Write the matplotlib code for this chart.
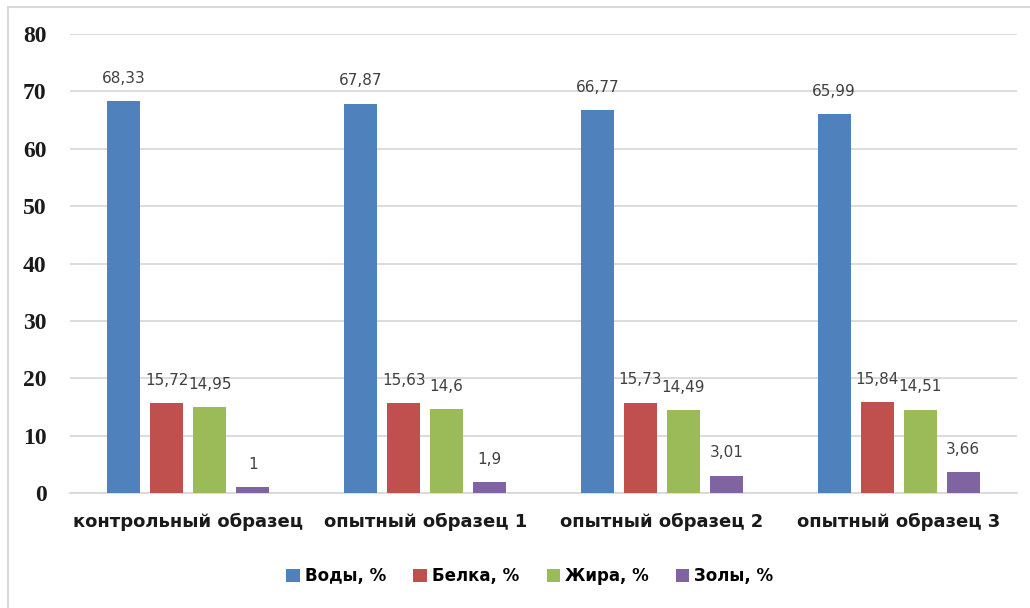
import matplotlib.pyplot as plt
import matplotlib.patches as mpatches
import numpy as np

# состав образцов, %
categories = ["контрольный образец", "опытный образец 1", "опытный образец 2", "опытный образец 3"]
series_names = ["Воды, %", "Белка, %", "Жира, %", "Золы, %"]
voda = [68.33, 67.87, 66.77, 65.99]
belok = [15.72, 15.63, 15.73, 15.84]
zhir = [14.95, 14.6, 14.49, 14.51]
zola = [1, 1.9, 3.01, 3.66]
yticks = [0, 10, 20, 30, 40, 50, 60, 70, 80]

colors = ["#4F81BD", "#C0504D", "#9BBB59", "#8064A2"]
series = [voda, belok, zhir, zola]

fig = plt.figure(figsize=(10.3, 6.08), dpi=100)
W, H = 1030, 608
ax = fig.add_axes([70 / W, (H - 493) / H, (1017 - 70) / W, (493 - 34) / H])

# рамка диаграммы
fig.patches.append(mpatches.Rectangle((8 / W, -0.05), 1.1, 1.05 - 7 / H,
                                      transform=fig.transFigure, fill=False,
                                      edgecolor="#D9D9D9", linewidth=1.5))

x = np.arange(len(categories))
width = 0.139
step = 0.1816
offsets = (np.arange(4) - 1.5) * step

for i, vals in enumerate(series):
    bars = ax.bar(x + offsets[i], vals, width, color=colors[i], label=series_names[i], zorder=3)
    for b, v in zip(bars, vals):
        txt = f"{v:g}".replace(".", ",")
        ax.annotate(txt, (b.get_x() + b.get_width() / 2, v), xytext=(0, 11),
                    textcoords="offset points", ha="center", va="bottom",
                    fontsize=11, color="#404040", zorder=4)

ax.set_xlim(-0.5, 3.5)
ax.set_ylim(0, 80)
ax.set_yticks(yticks)
ax.yaxis.grid(True, color="#D9D9D9", linewidth=1.3, zorder=0)
ax.set_axisbelow(True)
for s in ["top", "right", "left"]:
    ax.spines[s].set_visible(False)
ax.spines["bottom"].set_color("#D9D9D9")
ax.spines["bottom"].set_linewidth(1.3)
ax.tick_params(axis="y", length=0, pad=17)
ax.tick_params(axis="x", length=0, pad=14)
for lbl in ax.get_yticklabels():
    lbl.set_fontfamily("Liberation Serif")
    lbl.set_fontweight("bold")
    lbl.set_fontsize(17)
    lbl.set_color("#1a1a1a")
ax.set_xticks(x)
ax.set_xticklabels(categories, fontsize=13, fontweight="bold", color="#1a1a1a")

leg = fig.legend(loc="center", bbox_to_anchor=(530 / W, (H - 576) / H), ncol=4,
                 frameon=False, fontsize=12, handlelength=0.8, handleheight=0.8,
                 handletextpad=0.3, columnspacing=1.65)
for t in leg.get_texts():
    t.set_fontweight("bold")

fig.savefig("out.png", dpi=100)
